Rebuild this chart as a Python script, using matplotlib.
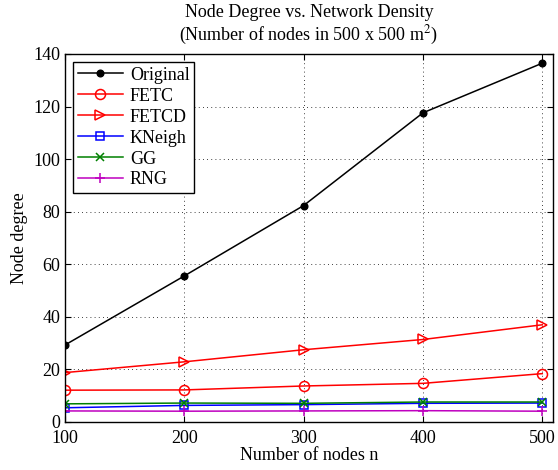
import matplotlib
matplotlib.use("Agg")
import matplotlib.pyplot as plt

nodes = [100, 200, 300, 400, 500]
original = [29.2, 55.5, 82.3, 117.6, 136.5]
fetc = [12.0, 12.1, 13.6, 14.6, 18.3]
fetcd = [18.7, 22.8, 27.4, 31.3, 36.9]
kneigh = [5.3, 6.2, 6.5, 7.0, 7.1]
gg = [6.8, 7.1, 7.0, 7.5, 7.5]
rng = [4.1, 4.0, 4.1, 4.2, 4.0]

plt.rcParams['font.family'] = ['Liberation Serif', 'DejaVu Serif']
plt.rcParams['mathtext.fontset'] = 'stix'

fs = 13
fig = plt.figure(figsize=(5.58, 4.70), dpi=100)
ax = fig.add_axes([65/558, 1 - 421.7/470, (553 - 65)/558, (421.7 - 54)/470])

lw = 1.1
ax.plot(nodes, original, '-o', color='black', lw=lw, ms=4.8, mfc='black', label='Original')
ax.plot(nodes, fetc, '-o', color='red', lw=lw, ms=7.2, mfc='none', mew=1.1, label='FETC')
ax.plot(nodes, fetcd, '->', color='red', lw=lw, ms=7.5, mfc='none', mew=1.1, label='FETCD')
ax.plot(nodes, kneigh, '-s', color='blue', lw=lw, ms=5.3, mfc='none', mew=1.1, label='KNeigh')
ax.plot(nodes, gg, '-x', color='green', lw=lw, ms=6, mew=1.1, label='GG')
ax.plot(nodes, rng, '-+', color='m', lw=lw, ms=7.5, mew=1.1, label='RNG')

ax.set_xlim(100, 509)
ax.set_ylim(0, 140)
ax.set_xticks(nodes)
ax.set_yticks(range(0, 141, 20))
ax.tick_params(direction='in', top=True, right=True, labelsize=fs, length=4)
ax.tick_params(axis='x', pad=6)
ax.grid(True, linestyle=(0, (1, 4)), color='black', lw=0.6)
for s in ax.spines.values():
    s.set_linewidth(1.0)

ax.set_xlabel('Number of nodes n', fontsize=fs, labelpad=0)
ax.set_ylabel('Node degree', fontsize=fs, labelpad=4)
ax.set_title('Node Degree vs. Network Density\n(Number of nodes in 500 x 500 m$^2$)', fontsize=fs, pad=10, linespacing=1.15)

leg = ax.legend(loc='upper left', fontsize=fs, fancybox=False, edgecolor='black',
                framealpha=1, borderaxespad=0.45, handlelength=2.5, labelspacing=0.22,
                borderpad=0.25, handletextpad=0.4)
leg.get_frame().set_linewidth(1.0)

fig.savefig('out.png', dpi=100)
